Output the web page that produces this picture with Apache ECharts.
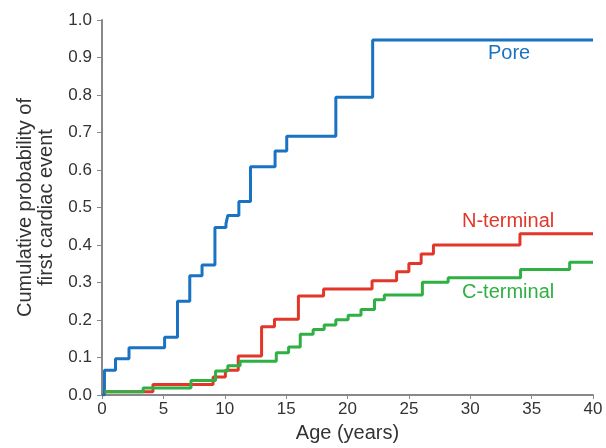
<!DOCTYPE html>
<html>
<head>
<meta charset="utf-8">
<script src="https://cdn.jsdelivr.net/npm/echarts@6/dist/echarts.min.js"></script>
<style>
  html, body { margin: 0; padding: 0; background: #fff; }
  #main { width: 606px; height: 448px; }
</style>
</head>
<body>
<div id="main"></div>
<script>
  // step curves: [age, cumulative probability] at each event
  var pore = [[0, 0], [0.2, 0.066], [1.1, 0.097], [2.2, 0.126], [5.1, 0.154], [6.15, 0.25],
    [7.15, 0.318], [8.15, 0.347], [9.2, 0.447], [10.1, 0.457], [10.25, 0.479], [11.15, 0.516],
    [12.1, 0.609], [14.1, 0.651], [15.05, 0.69], [19.05, 0.794], [22.05, 0.947], [40, 0.947]];
  var nTerminal = [[0.2, 0.009], [4.15, 0.028], [9.05, 0.048], [10.05, 0.066], [11.1, 0.104],
    [13.0, 0.182], [14.05, 0.202], [16.0, 0.264], [18.05, 0.283], [22.0, 0.305], [24.0, 0.329],
    [25.0, 0.351], [26.0, 0.376], [27.0, 0.4], [34.05, 0.43], [40, 0.43]];
  var cTerminal = [[0.2, 0.009], [3.35, 0.019], [7.25, 0.039], [9.25, 0.064], [10.25, 0.078],
    [11.25, 0.09], [14.2, 0.113], [15.2, 0.128], [16.15, 0.162], [17.2, 0.175], [18.1, 0.187],
    [19.05, 0.201], [20.05, 0.213], [21.1, 0.228], [22.2, 0.254], [23.0, 0.267], [26.1, 0.301],
    [28.2, 0.313], [34.1, 0.335], [38.1, 0.354], [40, 0.354]];
  var seriesNames = ['Pore', 'N-terminal', 'C-terminal'];
  var colors = ['#1a72c2', '#e3362a', '#2eb043'];

  var myChart = echarts.init(document.getElementById('main'));
  var font = 'Liberation Sans, Arial, sans-serif';

  function curve(name, data, color) {
    return {
      name: name,
      type: 'line',
      step: 'end',
      data: data,
      symbol: 'none',
      lineStyle: { width: 3, color: color },
      itemStyle: { color: color },
      z: 3
    };
  }

  var option = {
    animation: false,
    grid: { left: 102, right: 13, top: 20, bottom: 50 },
    xAxis: {
      type: 'value',
      min: 0,
      max: 40,
      interval: 5,
      name: 'Age (years)',
      nameLocation: 'middle',
      nameGap: 28,
      nameTextStyle: { fontFamily: font, fontSize: 20, color: '#333' },
      axisLine: { show: true, lineStyle: { color: '#888', width: 2 } },
      axisTick: { show: true, length: 4, lineStyle: { color: '#888' } },
      axisLabel: { fontFamily: font, fontSize: 17, color: '#333', margin: 6 },
      splitLine: { show: false }
    },
    yAxis: {
      type: 'value',
      min: 0,
      max: 1,
      interval: 0.1,
      name: 'Cumulative probability of\nfirst cardiac event',
      nameLocation: 'middle',
      nameGap: 44,
      nameTextStyle: { fontFamily: font, fontSize: 20, color: '#333', lineHeight: 21 },
      axisLine: { show: true, lineStyle: { color: '#888', width: 2 } },
      axisTick: { show: true, length: 5, lineStyle: { color: '#888' } },
      axisLabel: {
        fontFamily: font, fontSize: 17, color: '#333', margin: 10,
        formatter: function (v) { return v.toFixed(1); }
      },
      splitLine: { show: false }
    },
    series: [
      curve(seriesNames[0], pore, colors[0]),
      curve(seriesNames[1], nTerminal, colors[1]),
      curve(seriesNames[2], cTerminal, colors[2])
    ],
    graphic: [
      { type: 'text', left: 488, top: 43, style: { text: seriesNames[0], fill: colors[0], font: '20px ' + font } },
      { type: 'text', left: 462, top: 211, style: { text: seriesNames[1], fill: colors[1], font: '20px ' + font } },
      { type: 'text', left: 462, top: 282, style: { text: seriesNames[2], fill: colors[2], font: '20px ' + font } }
    ]
  };

  myChart.setOption(option);
</script>
</body>
</html>
